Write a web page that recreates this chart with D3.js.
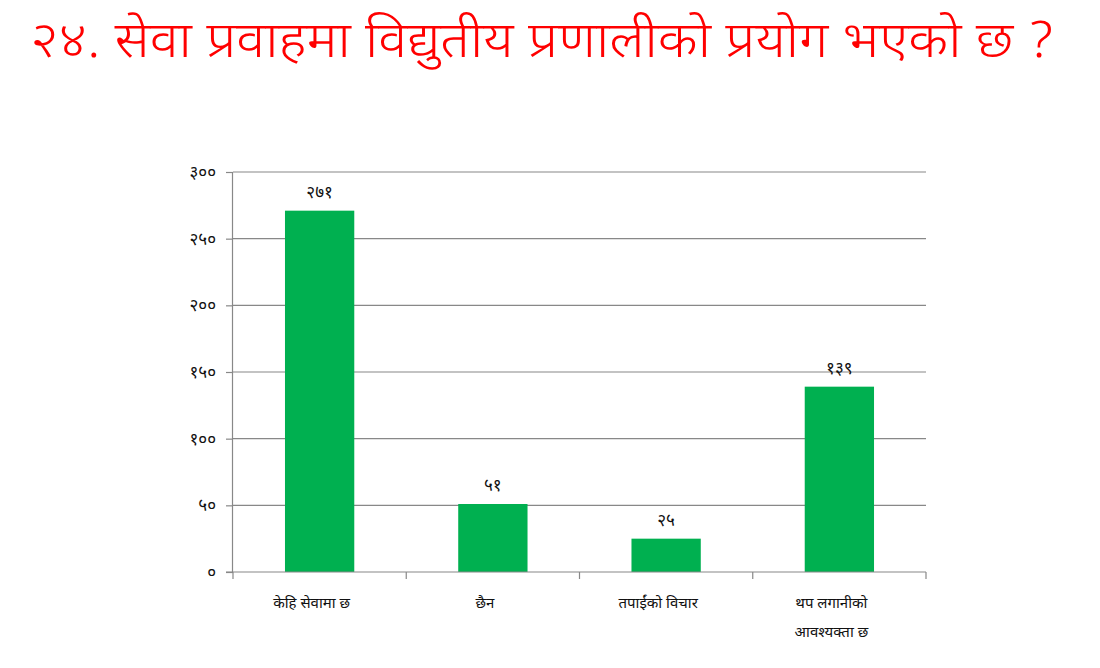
<!DOCTYPE html>
<html>
<head>
<meta charset="utf-8">
<script src="https://cdn.jsdelivr.net/npm/d3@7"></script>
<style>
  body { margin: 0; background: #fff; }
  svg { display: block; }
  .dev { font-family: "Noto Sans Devanagari", "Lohit Devanagari", "Mangal", "Noto Sans", sans-serif; }
</style>
</head>
<body>
<svg id="chart" width="1100" height="668"></svg>
<script>
// चार्टको डेटा
const categories = ['केहि सेवामा छ', 'छैन', 'तपाईंको विचार', 'थप लगानीको|आवश्यक्ता छ'];
const values = [271, 51, 25, 139];
const tickValues = [0, 50, 100, 150, 200, 250, 300];
const titleText = '२४. सेवा प्रवाहमा विद्युतीय प्रणालीको प्रयोग भएको छ ?';

// अंकलाई नेपाली अंकमा बदल्ने
const devDigits = '०१२३४५६७८९';
const toDev = (n) => String(n).replace(/[0-9]/g, (c) => devDigits[+c]);

const svg = d3.select('#chart');
const margin = { left: 233, right: 174, top: 172, bottom: 96 };
const width = 1100 - margin.left - margin.right;
const height = 668 - margin.top - margin.bottom;

// शीर्षक
svg.append('text')
  .attr('class', 'dev')
  .attr('x', 30)
  .attr('y', 57)
  .attr('textLength', 1025)
  .attr('lengthAdjust', 'spacingAndGlyphs')
  .style('font-size', '50px')
  .style('font-weight', 300)
  .style('fill', '#ff0000')
  .text(titleText);

const g = svg.append('g').attr('transform', `translate(${margin.left},${margin.top})`);

const x = d3.scaleBand().domain(categories).range([0, width]).paddingInner(0.6).paddingOuter(0.3);
const y = d3.scaleLinear().domain([0, 300]).range([height, 0]);

// ग्रिड लाइन
g.selectAll('line.grid')
  .data(tickValues.filter((d) => d > 0))
  .enter()
  .append('line')
  .attr('class', 'grid')
  .attr('x1', 0)
  .attr('x2', width)
  .attr('y1', (d) => y(d))
  .attr('y2', (d) => y(d))
  .style('stroke', '#888')
  .style('stroke-width', 1.2);

// बार
g.selectAll('rect.bar')
  .data(values)
  .enter()
  .append('rect')
  .attr('class', 'bar')
  .attr('x', (d, i) => x(categories[i]))
  .attr('y', (d) => y(d))
  .attr('width', x.bandwidth())
  .attr('height', (d) => height - y(d))
  .style('fill', '#00b050');

// मान लेबल
g.selectAll('text.val')
  .data(values)
  .enter()
  .append('text')
  .attr('class', 'val dev')
  .attr('x', (d, i) => x(categories[i]) + x.bandwidth() / 2)
  .attr('y', (d) => y(d) - 13)
  .attr('text-anchor', 'middle')
  .style('font-size', '17px')
  .style('fill', '#111')
  .text((d) => toDev(d));

// Y अक्ष
const yAxis = g.append('g')
  .call(d3.axisLeft(y).tickValues(tickValues).tickSize(7).tickPadding(10).tickFormat(toDev));
yAxis.select('.domain').style('stroke', '#888').style('stroke-width', 1.2).attr('d', `M-0.5,${height}V0`);
yAxis.selectAll('.tick line').style('stroke', '#888').style('stroke-width', 1.2);
yAxis.selectAll('.tick text').attr('class', 'dev').style('font-size', '17px').style('fill', '#111');

// X अक्ष
const xAxis = g.append('g').attr('transform', `translate(0,${height})`);
xAxis.append('line')
  .attr('x1', -7).attr('x2', width)
  .style('stroke', '#888').style('stroke-width', 1.2);
const bounds = d3.range(categories.length + 1).map((i) => i * x.step());
xAxis.selectAll('line.tk')
  .data(bounds)
  .enter()
  .append('line')
  .attr('class', 'tk')
  .attr('x1', (d) => d).attr('x2', (d) => d)
  .attr('y1', 0).attr('y2', 7)
  .style('stroke', '#888').style('stroke-width', 1.2);

const catLabels = xAxis.selectAll('text.cat')
  .data(categories)
  .enter()
  .append('text')
  .attr('class', 'cat dev')
  .attr('x', (d) => x(d) + x.bandwidth() / 2 - 8)
  .attr('y', 36)
  .attr('text-anchor', 'middle')
  .style('font-size', '15px')
  .style('fill', '#111');
catLabels.each(function (d) {
  const lines = d.split('|');
  d3.select(this).selectAll('tspan')
    .data(lines)
    .enter()
    .append('tspan')
    .attr('x', x(d) + x.bandwidth() / 2 - 8)
    .attr('dy', (l, i) => (i === 0 ? 0 : 29))
    .text((l) => l);
});
</script>
</body>
</html>
